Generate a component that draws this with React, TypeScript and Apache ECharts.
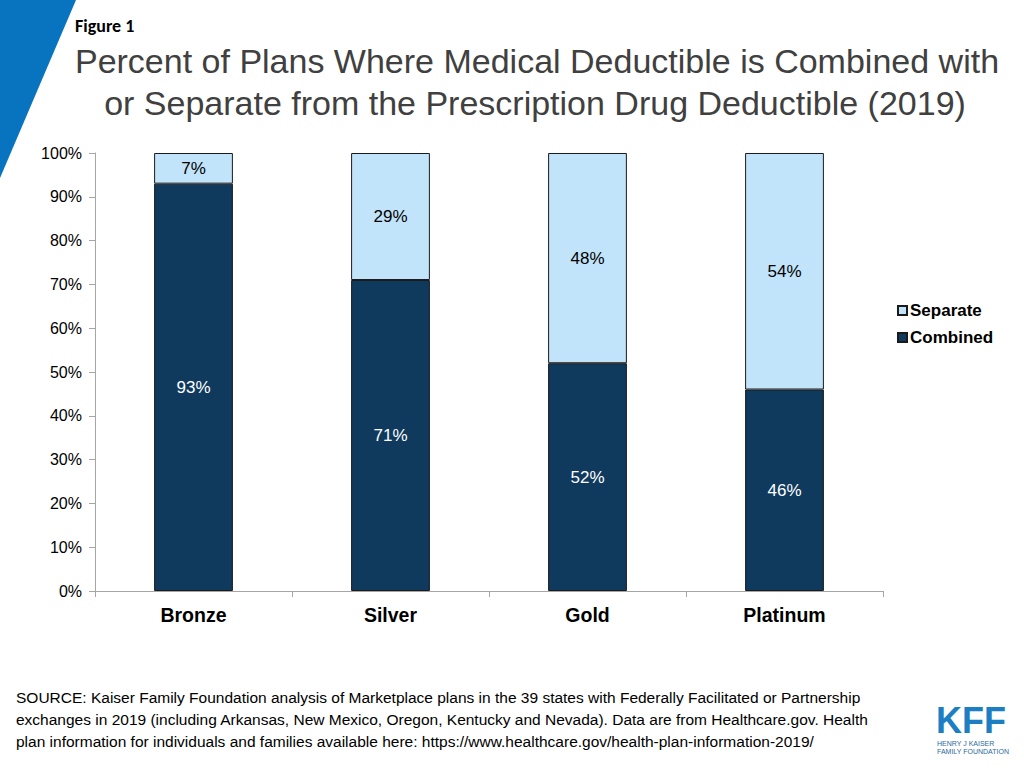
import React, { useEffect, useRef } from "react";
import * as echarts from "echarts";

const categories = ["Bronze", "Silver", "Gold", "Platinum"];
const combined = [93, 71, 52, 46];
const separate = [7, 29, 48, 54];
const seriesNames = ["Combined", "Separate"];
const titleLines = [
  "Percent of Plans Where Medical Deductible is Combined with",
  "or Separate from the Prescription Drug Deductible (2019)",
];
const sourceLines = [
  "SOURCE: Kaiser Family Foundation analysis of Marketplace plans in the 39 states with Federally Facilitated or Partnership",
  "exchanges in 2019 (including Arkansas, New Mexico, Oregon, Kentucky and Nevada). Data are from Healthcare.gov. Health",
  "plan information for individuals and families available here: https://www.healthcare.gov/health-plan-information-2019/",
];

export default function App() {
  const ref = useRef<HTMLDivElement>(null);
  useEffect(() => {
    if (!ref.current) return;
    const chart = echarts.init(ref.current, null, { renderer: "svg" });
    const labelStyle = {
      show: true,
      position: "inside" as const,
      formatter: "{c}%",
      fontFamily: "Arial, Liberation Sans",
      fontSize: 17,
    };
    chart.setOption({
      animation: false,
      backgroundColor: "#ffffff",
      grid: { left: 95, right: 141, top: 153, bottom: 177, containLabel: false },
      legend: {
        orient: "vertical",
        left: 897,
        top: 302,
        padding: 0,
        itemWidth: 9,
        itemHeight: 9,
        itemGap: 10,
        icon: "rect",
        data: ["Separate", "Combined"],
        textStyle: {
          fontFamily: "Arial, Liberation Sans",
          fontSize: 17,
          fontWeight: "bold",
          color: "#000",
          padding: [0, 0, 0, -2],
        },
      },
      xAxis: {
        type: "category",
        data: categories,
        axisLine: { lineStyle: { color: "#a6a6a6", width: 1 } },
        axisTick: { show: true, length: 6, lineStyle: { color: "#a6a6a6" } },
        axisLabel: {
          fontFamily: "Arial, Liberation Sans",
          fontSize: 19.5,
          fontWeight: "bold",
          color: "#000",
          margin: 14,
        },
      },
      yAxis: {
        type: "value",
        min: 0,
        max: 100,
        interval: 10,
        axisLine: { show: true, lineStyle: { color: "#a6a6a6", width: 1 } },
        axisTick: { show: true, length: 6, lineStyle: { color: "#a6a6a6" } },
        splitLine: { show: false },
        axisLabel: {
          formatter: "{value}%",
          fontFamily: "Arial, Liberation Sans",
          fontSize: 16,
          color: "#000",
          margin: 13,
        },
      },
      series: [
        {
          name: seriesNames[0],
          type: "bar",
          stack: "total",
          data: combined,
          barWidth: "40%",
          itemStyle: { color: "#0f3a5e", borderColor: "#1a1a1a", borderWidth: 1 },
          label: { ...labelStyle, color: "#ffffff" },
        },
        {
          name: seriesNames[1],
          type: "bar",
          stack: "total",
          data: separate,
          barWidth: "40%",
          itemStyle: { color: "#c2e4fa", borderColor: "#1a1a1a", borderWidth: 1 },
          label: { ...labelStyle, color: "#000000" },
        },
      ],
      graphic: [
        {
          type: "polygon",
          shape: { points: [[0, 0], [76, 0], [0, 178]] },
          style: { fill: "#0874c0" },
        },
        {
          type: "text",
          x: 75,
          y: 26,
          style: {
            text: "Figure 1",
            fontFamily: "Carlito, Open Sans, Arial",
            fontSize: 18,
            fontWeight: "bold",
            fill: "#000",
            verticalAlign: "middle",
          },
        },
        {
          type: "text",
          x: 537,
          y: 61,
          style: {
            text: titleLines[0],
            fontFamily: "Arial, Liberation Sans",
            fontSize: 34,
            fill: "#404040",
            align: "center",
            verticalAlign: "middle",
          },
        },
        {
          type: "text",
          x: 535,
          y: 103,
          style: {
            text: titleLines[1],
            fontFamily: "Arial, Liberation Sans",
            fontSize: 34,
            fill: "#404040",
            align: "center",
            verticalAlign: "middle",
          },
        },
        ...sourceLines.map((t, i) => ({
          type: "text",
          x: 16,
          y: 697 + i * 22,
          style: {
            text: t,
            fontFamily: "Arial, Liberation Sans",
            fontSize: 15.5,
            fill: "#000",
            verticalAlign: "middle",
          },
        })),
        {
          type: "text",
          x: 936,
          y: 720,
          style: {
            text: "KFF",
            fontFamily: "Arial, Liberation Sans",
            fontSize: 36,
            lineHeight: 28,
            fontWeight: "bold",
            fill: "#1c7fc4",
            verticalAlign: "middle",
          },
        },
        {
          type: "text",
          x: 937,
          y: 743,
          style: {
            text: "HENRY J KAISER",
            fontFamily: "Arial, Liberation Sans",
            fontSize: 7,
            lineHeight: 7,
            fill: "#2b6a9c",
            verticalAlign: "middle",
          },
        },
        {
          type: "text",
          x: 937,
          y: 751,
          style: {
            text: "FAMILY FOUNDATION",
            fontFamily: "Arial, Liberation Sans",
            fontSize: 7,
            lineHeight: 7,
            fill: "#2b6a9c",
            verticalAlign: "middle",
          },
        },
      ],
    });
    return () => chart.dispose();
  }, []);
  return <div ref={ref} style={{ width: 1024, height: 768, position: "absolute", left: 0, top: 0 }} />;
}
